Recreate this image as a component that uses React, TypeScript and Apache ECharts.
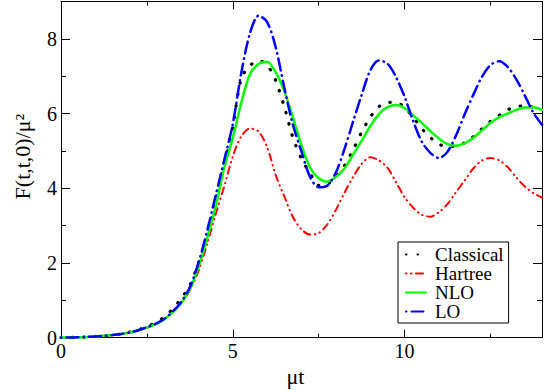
import React, { useEffect, useRef } from 'react';
import * as echarts from 'echarts';

const T = [0, 0.25, 0.5, 0.75, 1, 1.25, 1.5, 1.75, 2, 2.25, 2.5, 2.75, 3, 3.25, 3.5, 3.75, 4, 4.25, 4.5, 4.75, 5, 5.25, 5.5, 5.75, 6, 6.25, 6.5, 6.75, 7, 7.25, 7.5, 7.75, 8, 8.25, 8.5, 8.75, 9, 9.25, 9.5, 9.75, 10, 10.25, 10.5, 10.75, 11, 11.25, 11.5, 11.75, 12, 12.25, 12.5, 12.75, 13, 13.25, 13.5, 13.75, 14];

const CLASSICAL = [0, 0.005, 0.01, 0.02, 0.035, 0.05, 0.07, 0.1, 0.15, 0.21, 0.3, 0.4, 0.55, 0.77, 1.05, 1.4, 2.0, 2.68, 3.6, 4.6, 5.65, 6.95, 7.28, 7.42, 7.3, 6.88, 6.18, 5.36, 4.79, 4.4, 4.08, 4.12, 4.31, 4.6, 5.03, 5.5, 5.9, 6.18, 6.3, 6.3, 6.16, 5.9, 5.6, 5.36, 5.18, 5.12, 5.12, 5.22, 5.38, 5.59, 5.79, 5.95, 6.1, 6.18, 6.21, 6.17, 6.12];

const HARTREE = [0, 0.005, 0.01, 0.02, 0.035, 0.05, 0.07, 0.1, 0.14, 0.2, 0.27, 0.36, 0.49, 0.68, 0.92, 1.27, 1.78, 2.5, 3.3, 4.05, 4.85, 5.4, 5.6, 5.52, 5.1, 4.35, 3.78, 3.23, 2.9, 2.76, 2.8, 3.03, 3.42, 3.88, 4.3, 4.65, 4.83, 4.75, 4.55, 4.17, 3.76, 3.48, 3.29, 3.24, 3.36, 3.58, 3.9, 4.21, 4.53, 4.74, 4.81, 4.75, 4.57, 4.29, 4.05, 3.87, 3.75];

const NLO = [0, 0.005, 0.01, 0.02, 0.035, 0.05, 0.07, 0.1, 0.14, 0.2, 0.27, 0.36, 0.49, 0.68, 0.93, 1.3, 1.88, 2.65, 3.5, 4.55, 5.35, 6.3, 7.05, 7.33, 7.39, 7.1, 6.6, 5.9, 5.15, 4.55, 4.27, 4.18, 4.3, 4.53, 4.9, 5.27, 5.66, 5.98, 6.17, 6.23, 6.15, 5.95, 5.75, 5.53, 5.33, 5.18, 5.14, 5.2, 5.35, 5.55, 5.75, 5.9, 6.0, 6.1, 6.16, 6.17, 6.1];

const LO = [0, 0.005, 0.01, 0.02, 0.035, 0.05, 0.07, 0.1, 0.14, 0.2, 0.28, 0.37, 0.5, 0.7, 0.96, 1.35, 2.0, 2.85, 3.8, 4.75, 5.72, 7.1, 8.15, 8.62, 8.45, 7.77, 6.69, 5.7, 4.98, 4.3, 4.03, 4.07, 4.42, 5.05, 5.78, 6.5, 7.15, 7.42, 7.34, 6.98, 6.45, 5.8, 5.25, 4.95, 4.81, 4.98, 5.42, 5.98, 6.5, 6.98, 7.3, 7.4, 7.25, 6.92, 6.48, 6.02, 5.7];

const SERIES_NAMES = ['Classical', 'Hartree', 'NLO', 'LO'];
const X_MAJOR = [0, 5, 10];
const X_MINOR = [2.5, 7.5, 12.5];
const Y_MAJOR = [0, 2, 4, 6, 8];
const Y_MINOR = [1, 3, 5, 7];

const FONT = 'Liberation Serif';

export default function App() {
  const ref = useRef<HTMLDivElement>(null);
  useEffect(() => {
    const chart = echarts.init(ref.current!, null, { renderer: 'svg' });
    const pairs = (ys: number[]) => T.map((t, i) => [t, ys[i]]);
    const blackLine = { color: '#000', width: 1 };

    const xAxisBase = (position: string, ticks: number[], len: number, line: boolean, labels: boolean) => ({
      type: 'value',
      min: 0,
      max: 14,
      interval: 5,
      position,
      splitLine: { show: false },
      axisLine: { show: line, onZero: false, lineStyle: blackLine },
      axisTick: { show: true, inside: true, length: len, customValues: ticks, lineStyle: blackLine },
      axisLabel: labels
        ? { show: true, showMaxLabel: false, margin: 3, fontFamily: FONT, fontSize: 20, color: '#000' }
        : { show: false },
    });
    const yAxisBase = (position: string, ticks: number[], len: number, line: boolean, labels: boolean) => ({
      type: 'value',
      min: 0,
      max: 9,
      interval: 2,
      position,
      splitLine: { show: false },
      axisLine: { show: line, onZero: false, lineStyle: blackLine },
      axisTick: { show: true, inside: true, length: len, customValues: ticks, lineStyle: blackLine },
      axisLabel: labels
        ? { show: true, showMaxLabel: false, margin: 4, fontFamily: FONT, fontSize: 20, color: '#000' }
        : { show: false },
    });

    const xMain: any = xAxisBase('bottom', X_MAJOR, 8, true, true);
    xMain.name = 'μt';
    xMain.nameLocation = 'middle';
    xMain.nameGap = 20;
    xMain.nameTextStyle = { fontFamily: FONT, fontSize: 22, color: '#000', padding: [0, 12, 0, 0] };

    const yMain: any = yAxisBase('left', Y_MAJOR, 9, true, true);
    yMain.name = 'F(t,t,0)/μ²';
    yMain.nameLocation = 'middle';
    yMain.nameGap = 28;
    yMain.nameTextStyle = { fontFamily: FONT, fontSize: 22, color: '#000', padding: [0, 0, 0, 26] };

    const mk = (name: string, ys: number[], color: string, width: number, type: any) => ({
      name,
      type: 'line',
      xAxisIndex: 0,
      yAxisIndex: 0,
      data: pairs(ys),
      symbol: 'none',
      showSymbol: false,
      smooth: 0.3,
      color,
      itemStyle: { color },
      lineStyle: { color, width, type, cap: 'round' },
    });

    chart.setOption({
      animation: false,
      backgroundColor: '#fff',
      textStyle: { fontFamily: FONT, color: '#000' },
      grid: { left: 61, right: 3, top: 1.5, bottom: 52.3, containLabel: false, outerBoundsMode: 'none' },
      xAxis: [
        xMain,
        xAxisBase('bottom', X_MINOR, 4, false, false),
        xAxisBase('top', X_MAJOR, 8, true, false),
        xAxisBase('top', X_MINOR, 4, false, false),
      ],
      yAxis: [
        yMain,
        yAxisBase('left', Y_MINOR, 5, false, false),
        yAxisBase('right', Y_MAJOR, 9, true, false),
        yAxisBase('right', Y_MINOR, 5, false, false),
      ],
      legend: {
        data: SERIES_NAMES,
        orient: 'vertical',
        left: 398,
        top: 242,
        itemWidth: 20,
        itemHeight: 10,
        itemGap: 0,
        padding: [3, 5, 2, 7],
        borderColor: '#000',
        borderWidth: 1,
        borderRadius: 0,
        backgroundColor: '#fff',
        itemStyle: { color: 'rgba(0,0,0,0)', borderWidth: 0, opacity: 0 },
        textStyle: { fontFamily: FONT, fontSize: 19, color: '#000', lineHeight: 17.5, padding: [0, 0, 0, 4] },
      },
      series: [
        mk('Classical', CLASSICAL, '#000000', 3.2, [0.5, 11]),
        mk('Hartree', HARTREE, '#ff0000', 2, [0.5, 4.5, 0.5, 4.5, 7, 4.5]),
        mk('NLO', NLO, '#00ff00', 2.5, 'solid'),
        mk('LO', LO, '#0000ff', 2.5, [0.5, 5, 12, 5]),
      ],
    });
    return () => chart.dispose();
  }, []);
  return <div ref={ref} style={{ position: 'fixed', left: 0, top: 0, width: 545, height: 390 }} />;
}
